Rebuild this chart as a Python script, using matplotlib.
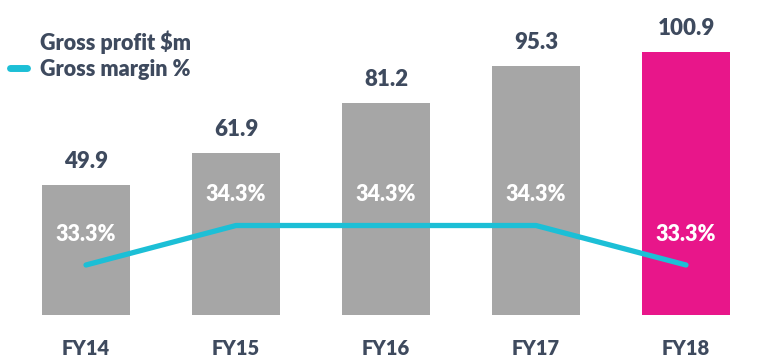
import matplotlib
matplotlib.use("Agg")
import matplotlib.pyplot as plt
from matplotlib.patches import Patch
from matplotlib.lines import Line2D
import numpy as np

years = ["FY14", "FY15", "FY16", "FY17", "FY18"]
gross_profit = [49.9, 61.9, 81.2, 95.3, 100.9]
gross_margin = [33.3, 34.3, 34.3, 34.3, 33.3]

GREY = "#A6A6A6"
PINK = "#E8168A"
CYAN = "#1CBFD6"
NAVY = "#3E4A5E"

plt.rcParams["font.family"] = ["Lato", "DejaVu Sans"]

fig = plt.figure(figsize=(7.71, 3.63), dpi=100)
ax = fig.add_axes([0, 48 / 363, 1, 315 / 363])
x = np.arange(len(years))

colors = [GREY] * (len(years) - 1) + [PINK]
ax.bar(x, gross_profit, width=0.587, color=colors, zorder=1)
ax.set_xlim(-86 / 150, (771 - 86) / 150)
ax.set_ylim(0, 315 / 2.61)

for xi, v in zip(x, gross_profit):
    ax.annotate(f"{v:.1f}", (xi, v), xytext=(0, 17), textcoords="offset points",
                ha="center", va="center", fontsize=16, fontweight="heavy", color=NAVY)

ax.set_xticks(x)
ax.set_xticklabels(years, fontsize=14.5, fontweight="heavy", color=NAVY)
ax.tick_params(axis="x", length=0, pad=17)
ax.set_yticks([])
for s in ax.spines.values():
    s.set_visible(False)

# margin line on a second y-axis
ax2 = ax.twinx()
ax2.set_ylim(32.034, 40.01)
ax2.plot(x, gross_margin, color=CYAN, lw=3.8, solid_capstyle="round", zorder=3)
for xi, m in zip(x, gross_margin):
    ax2.annotate(f"{m:.1f}%", (xi, m), xytext=(0, 22), textcoords="offset points",
                 ha="center", va="center", fontsize=15.5, fontweight="heavy", color="white")
ax2.set_yticks([])
for s in ax2.spines.values():
    s.set_visible(False)

handles = [Patch(facecolor="none", edgecolor="none"),
           Line2D([0], [0], color=CYAN, lw=5, solid_capstyle="round")]
leg = fig.legend(handles, ["Gross profit $m", "Gross margin %"], loc="upper left",
                 bbox_to_anchor=(0.002, 0.94), frameon=False, fontsize=15.5,
                 handlelength=0.8, handletextpad=0.6, labelspacing=0.22,
                 borderaxespad=0)
for t in leg.get_texts():
    t.set_color(NAVY)
    t.set_fontweight("heavy")

fig.savefig("out.png", dpi=100)
